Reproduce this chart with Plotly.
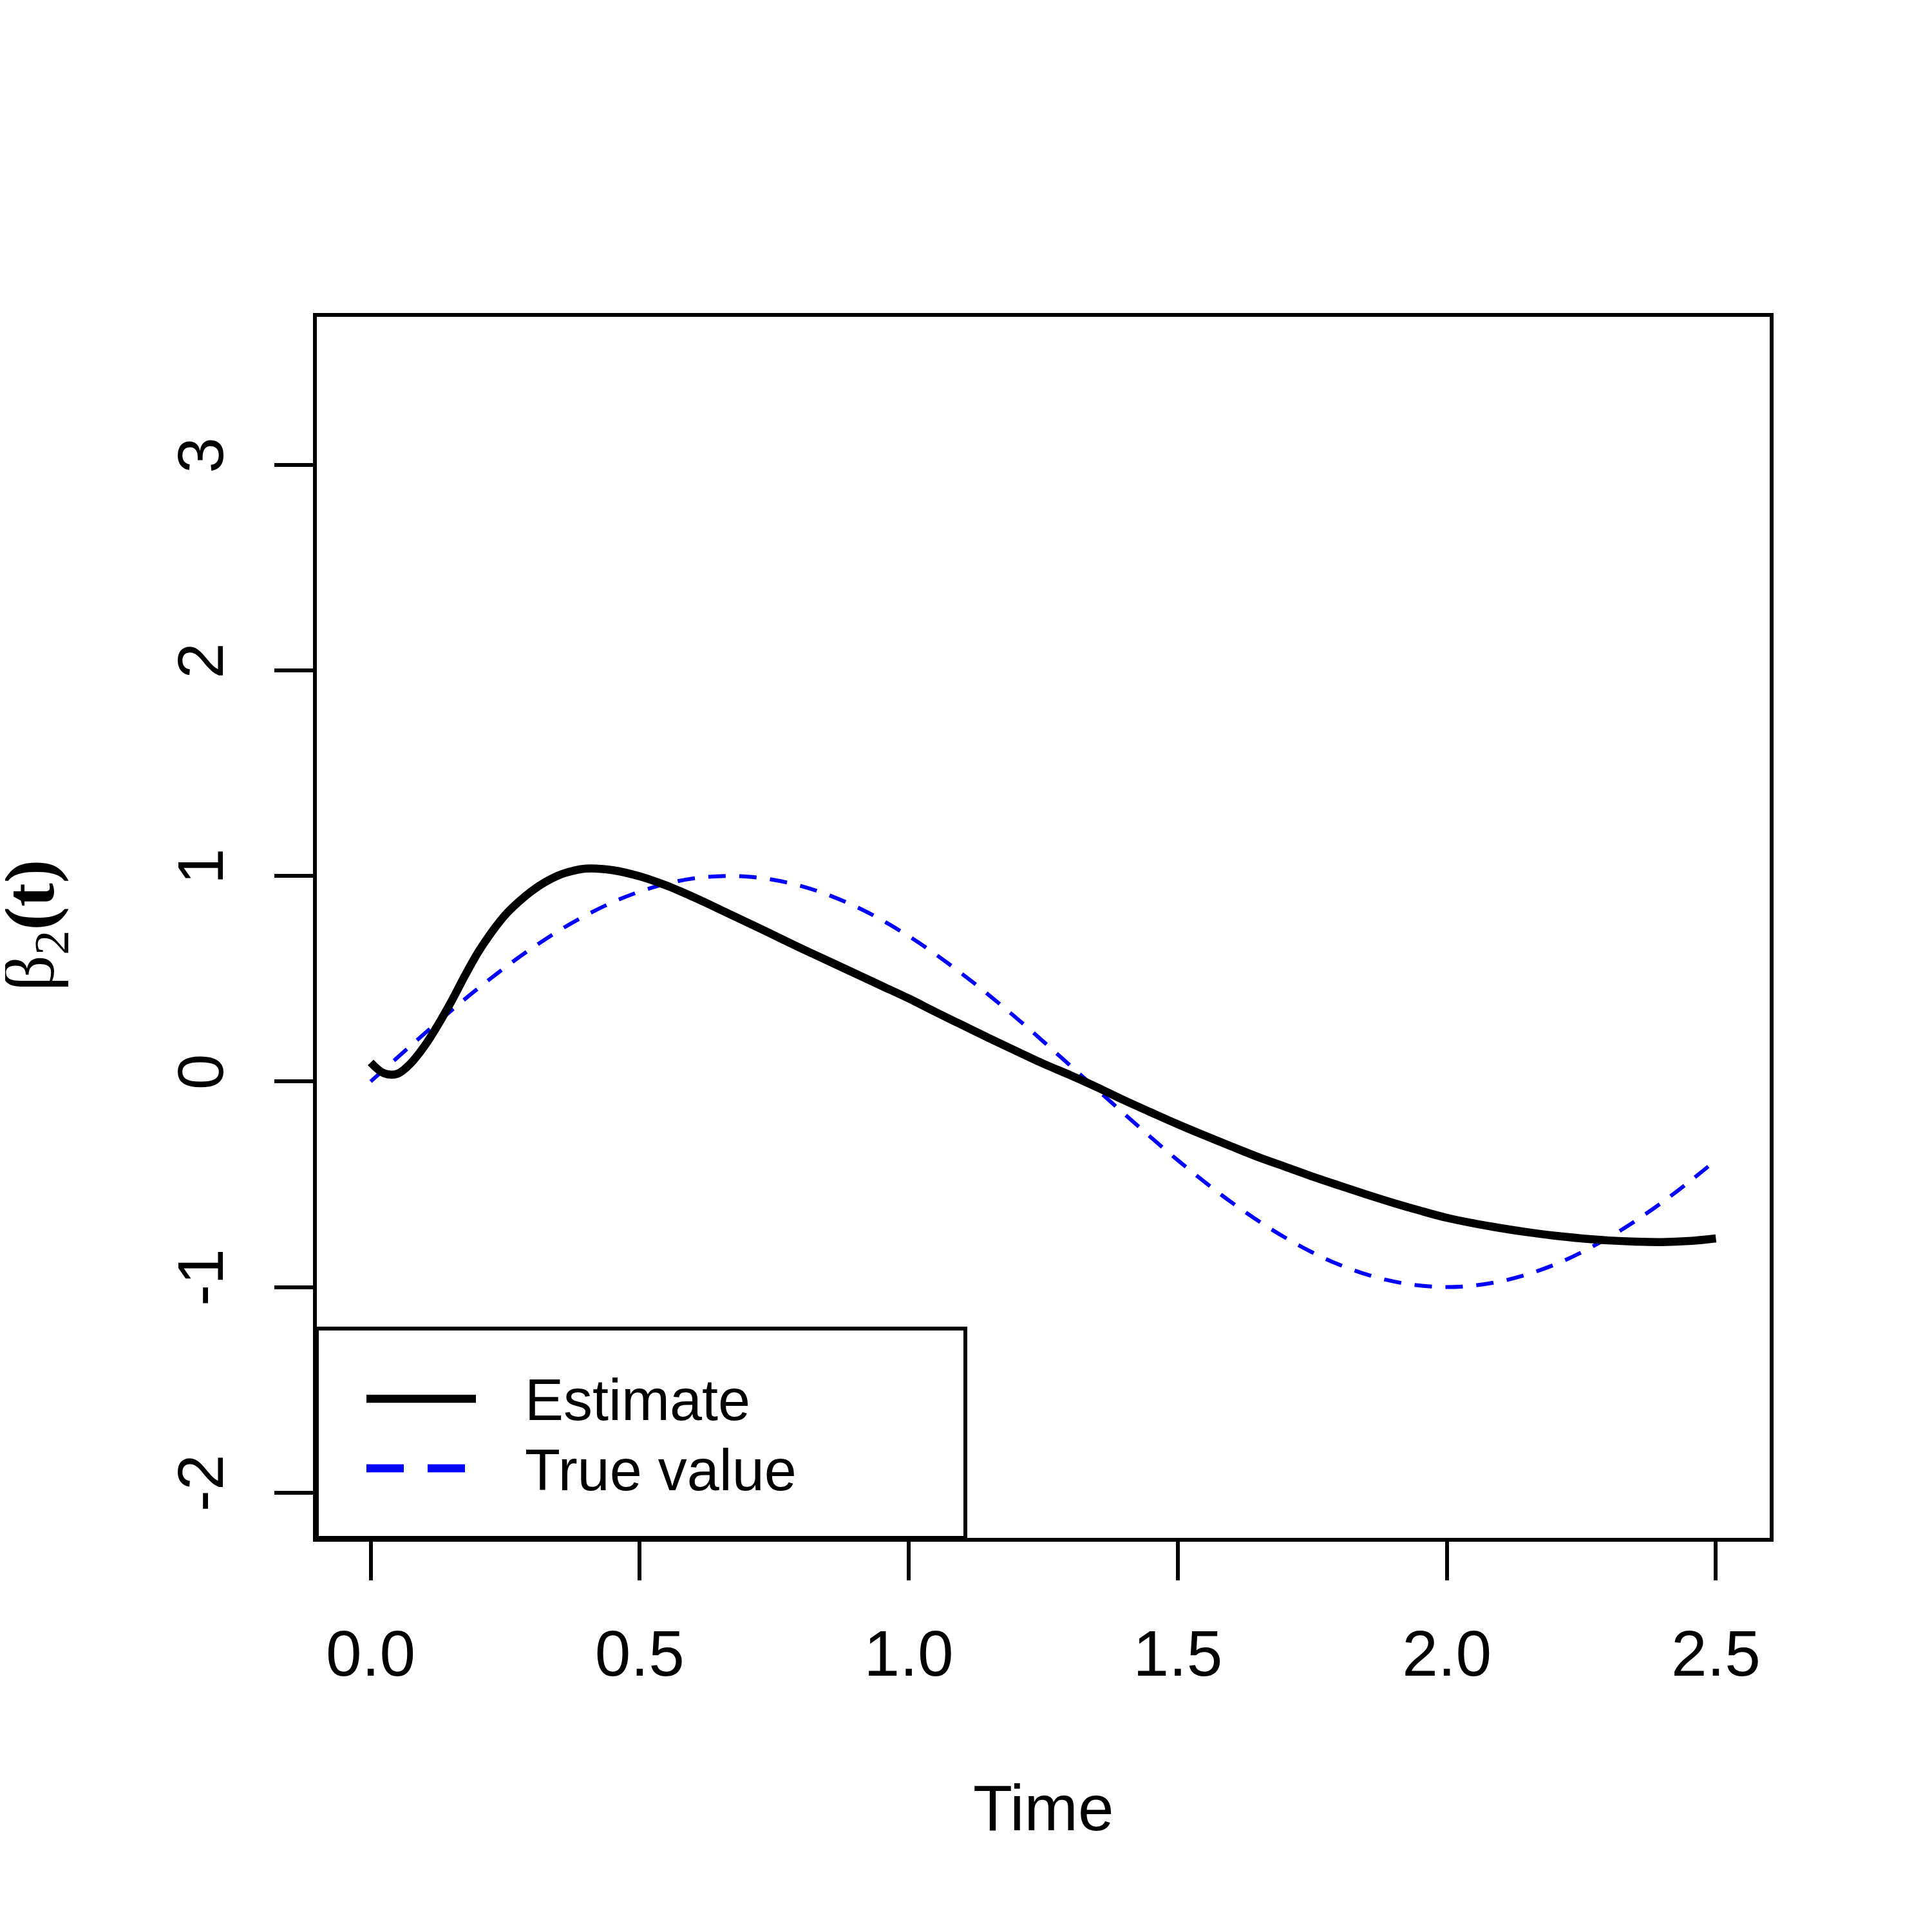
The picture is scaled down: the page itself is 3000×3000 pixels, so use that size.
import plotly.graph_objects as go

# valores
t_est = [0.0, 0.025, 0.05, 0.075, 0.1, 0.125, 0.15, 0.175, 0.2, 0.225, 0.25, 0.275, 0.3, 0.325,
         0.35, 0.375, 0.4, 0.45, 0.5, 0.55, 0.6, 0.65, 0.7, 0.75, 0.8, 0.85, 0.9, 0.95, 1.0,
         1.05, 1.1, 1.15, 1.2, 1.25, 1.3, 1.35, 1.4, 1.45, 1.5, 1.55, 1.6, 1.65, 1.7, 1.75,
         1.8, 1.85, 1.9, 1.95, 2.0, 2.05, 2.1, 2.15, 2.2, 2.25, 2.3, 2.35, 2.4, 2.45, 2.5]
y_est = [0.093, 0.040, 0.038, 0.090, 0.172, 0.275, 0.390, 0.514, 0.630, 0.727, 0.810, 0.874,
         0.928, 0.971, 1.004, 1.024, 1.036, 1.028, 0.998, 0.953, 0.897, 0.836, 0.774, 0.711,
         0.648, 0.587, 0.526, 0.465, 0.404, 0.338, 0.274, 0.210, 0.148, 0.087, 0.031, -0.028,
         -0.091, -0.150, -0.208, -0.263, -0.316, -0.368, -0.415, -0.462, -0.506, -0.549,
         -0.590, -0.628, -0.663, -0.690, -0.713, -0.733, -0.750, -0.763, -0.773, -0.779,
         -0.781, -0.776, -0.763]

t_true = [0.0, 0.1, 0.2, 0.3, 0.4, 0.5, 0.6, 0.7, 0.8, 0.9, 1.0, 1.1, 1.2, 1.3, 1.4, 1.5, 1.6,
          1.7, 1.8, 1.9, 2.0, 2.1, 2.2, 2.3, 2.4, 2.5]
y_true = [0.0, 0.233, 0.454, 0.649, 0.809, 0.924, 0.988, 0.997, 0.951, 0.853, 0.707, 0.522, 0.309,
          0.078, -0.156, -0.383, -0.588, -0.760, -0.891, -0.972, -1.0, -0.972, -0.891, -0.760,
          -0.588, -0.383]

x_ticks = [0.0, 0.5, 1.0, 1.5, 2.0, 2.5]
x_labels = ["0.0", "0.5", "1.0", "1.5", "2.0", "2.5"]
y_ticks = [-2, -1, 0, 1, 2, 3]
y_labels = ["-2", "-1", "0", "1", "2", "3"]
nomes = ["Estimate", "True value"]

W, H = 3000, 3000
L, R, T, B = 484, 260, 484, 620
OFF = 8  # margem do body da pagina
pw, ph = W - L - R, H - T - B


def px(X):
    # coordenada da pagina -> paper
    return (X - OFF - L) / pw


def py(Y):
    return (H - B + OFF - Y) / ph


fig = go.Figure()

fig.add_trace(go.Scatter(x=t_true, y=y_true, mode="lines", name=nomes[1],
                         line=dict(color="#0000FF", width=6, dash="27px,21px", shape="spline")))
fig.add_trace(go.Scatter(x=t_est, y=y_est, mode="lines", name=nomes[0],
                         line=dict(color="black", width=12.5, shape="spline")))

fonte = dict(family="Liberation Sans, Arial", size=100, color="black")

fig.update_xaxes(range=[-0.1, 2.6], tickvals=x_ticks, ticktext=x_labels, ticks="outside",
                 ticklen=60, tickwidth=6, tickcolor="black", showline=True, linewidth=6,
                 linecolor="black", mirror=True, showgrid=False, zeroline=False,
                 tickfont=fonte, ticklabelstandoff=28)
fig.update_yaxes(range=[-2.22, 3.72], tickvals=y_ticks, ticktext=y_labels, ticks="outside",
                 tickangle=-90, ticklen=60, tickwidth=6, tickcolor="black", showline=True,
                 linewidth=6, linecolor="black", mirror=True, showgrid=False, zeroline=False,
                 tickfont=fonte, ticklabelstandoff=40)

# caixa da legenda (canto inferior esquerdo)
shapes = [dict(type="rect", xref="paper", yref="paper", x0=0, x1=px(1499), y0=0, y1=py(2063),
               line=dict(color="black", width=6), fillcolor="white", layer="above")]
shapes.append(dict(type="line", xref="paper", yref="paper", x0=px(569), x1=px(739),
                   y0=py(2172), y1=py(2172), line=dict(color="black", width=12.5), layer="above"))
for a, b in [(569, 627), (664, 722)]:
    shapes.append(dict(type="line", xref="paper", yref="paper", x0=px(a), x1=px(b),
                       y0=py(2280), y1=py(2280), line=dict(color="#0000FF", width=12.5),
                       layer="above"))

annotations = []
for nome, Y in zip(nomes, [2174, 2283]):
    annotations.append(dict(text=nome, xref="paper", yref="paper", x=px(813), y=py(Y),
                            xanchor="left", yanchor="middle", showarrow=False,
                            font=dict(family="Liberation Sans, Arial", size=90, color="black")))
annotations.append(dict(text="Time", xref="paper", yref="paper", x=px(1620), y=py(2807),
                        xanchor="center", yanchor="middle", showarrow=False, font=fonte))
annotations.append(dict(text="β<sub>2</sub><b>(t)</b>", xref="paper", yref="paper", x=px(54),
                        y=py(1437), xanchor="center", yanchor="middle", showarrow=False,
                        textangle=-90,
                        font=dict(family="Liberation Serif, Times New Roman", size=110, color="black")))

fig.update_layout(width=W, height=H, margin=dict(l=L, r=R, t=T, b=B, autoexpand=False),
                  plot_bgcolor="white", paper_bgcolor="white", showlegend=False,
                  shapes=shapes, annotations=annotations)

fig.write_html("out.html")
